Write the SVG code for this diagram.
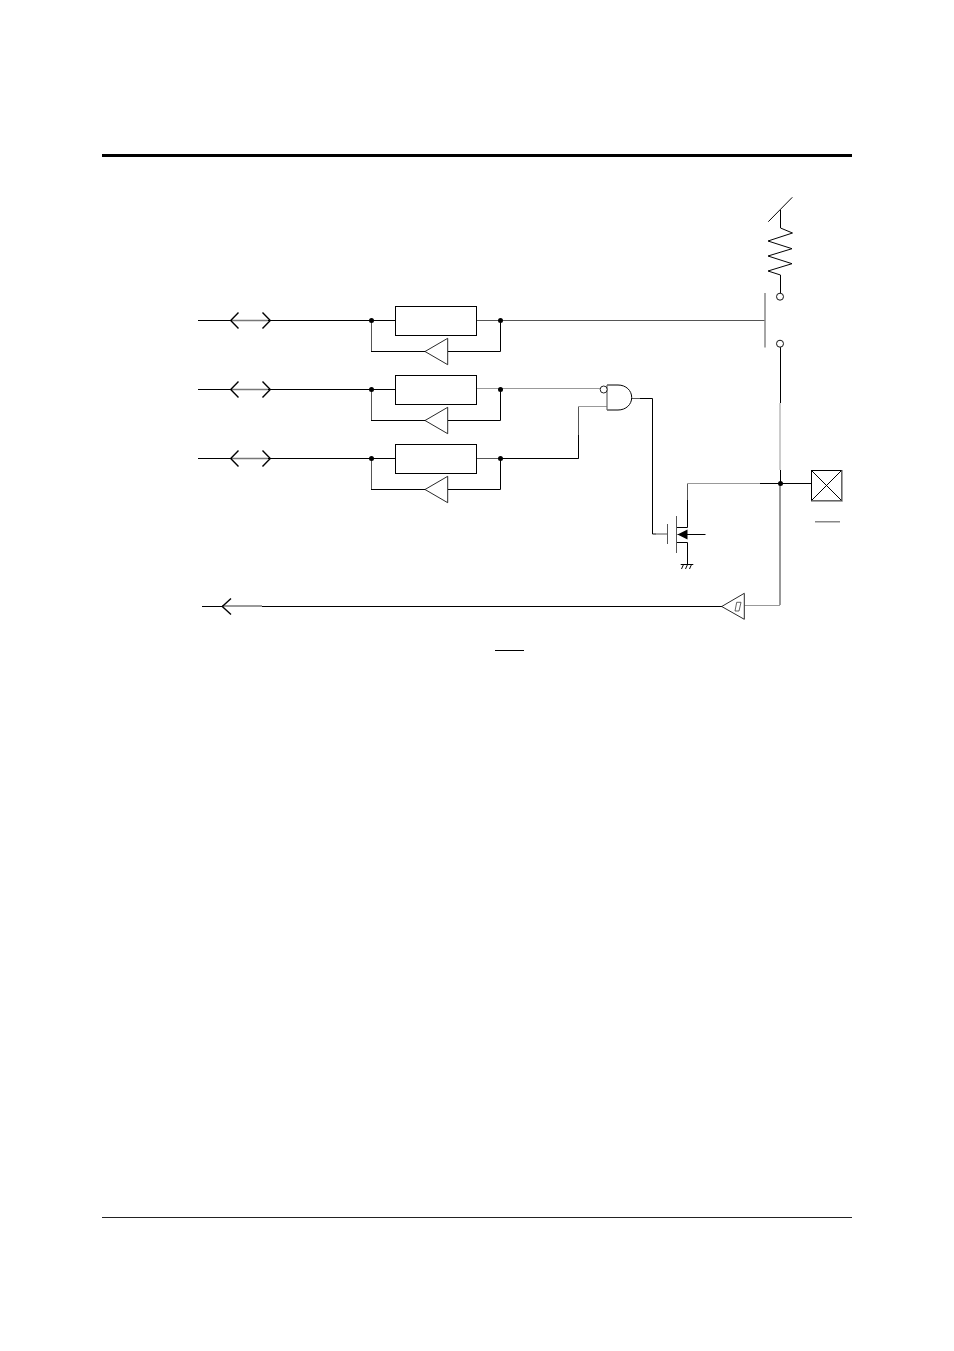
<svg xmlns="http://www.w3.org/2000/svg" width="954" height="1351" viewBox="0 0 954 1351">
<style>
.k{fill:none;stroke:#000;stroke-width:1}
.d{fill:none;stroke:#555;stroke-width:1}
.g{fill:none;stroke:#999;stroke-width:1}
.m{fill:none;stroke:#999;stroke-width:2}
.s{fill:none;stroke:#777;stroke-width:1.600}
.box{fill:#fff;stroke:#000;stroke-width:1}
.tri{fill:#fff;stroke:#111;stroke-width:.9}
.dot{fill:#000}
.circ{fill:#fff;stroke:#111;stroke-width:1}
.bi{fill:none;stroke:#000;stroke-width:1.400}
</style>
<rect width="954" height="1351" fill="#fff"/>
<g id="page-rules">
<rect x="102" y="154" width="750" height="3" fill="#000"/>
<rect x="102" y="1217" width="750" height="1" fill="#222"/>
</g>
<g id="connectors">
<path class="k" d="M198 320.500H232M268 320.500H395"/><path class="s" d="M232 320.500H268"/>
<path class="k" d="M198 389.500H232M268 389.500H395"/><path class="s" d="M232 389.500H268"/>
<path class="k" d="M198 458.500H232M268 458.500H395"/><path class="s" d="M232 458.500H268"/>
<path class="bi" d="M238.500 312.500L230.700 320.500L238.500 328.500M262.500 312.500L270.300 320.500L262.500 328.500"/>
<path class="bi" d="M238.500 381.500L230.700 389.500L238.500 397.500M262.500 381.500L270.300 389.500L262.500 397.500"/>
<path class="bi" d="M238.500 450.500L230.700 458.500L238.500 466.500M262.500 450.500L270.300 458.500L262.500 466.500"/>
<path class="d" d="M371.500 320.500V351.500M371.500 389.500V420.500M371.500 458.500V489.500"/>
<path class="k" d="M371 351.500H425M371 420.500H425M371 489.500H425"/>
<path class="k" d="M448 351.500H500.500V320.500M448 420.500H500.500V389.500M448 489.500H500.500V458.500"/>
<path class="d" d="M477 320.500H765"/>
<path class="g" d="M477 388.500H600"/>
<path class="d" d="M477 458.500H578.500"/>
<path class="k" d="M500 458.500H578.500V435"/>
<path class="d" d="M578.500 435V406.500"/><path class="g" d="M578.500 406.500H607"/>
<path class="d" d="M631 398.500H640"/>
<path class="k" d="M640 398.500H652.500V534H656"/>
<path class="d" d="M656 534H667"/>
<path class="k" d="M677 527.500H687.500V500"/>
<path class="d" d="M687.500 500V483.500"/>
<path class="g" d="M687.500 483.500H760"/>
<path class="k" d="M760 483.500H811"/>
<path class="k" d="M677 542.500H687.500V564"/>
<path class="k" d="M677.500 534.500H705.500" stroke-width=".8"/>
<path class="k" d="M780.500 347V403"/>
<path class="g" d="M780 403V470" stroke-width="1.500"/>
<path class="k" d="M780.500 470V484"/>
<path class="m" d="M780 484V605"/>
<path class="g" d="M744.500 605.500H780"/>
<path class="k" d="M202 606.500H222M262 606.500H722"/>
<path class="m" d="M222 606H262" stroke="#888"/>
<path class="bi" d="M231 598.500L222.300 606.500L231 614.500"/>
<path class="k" d="M768.300 221.700L792.300 197.300"/>
<path class="k" d="M780.500 210V228L792.500 233L768 241L792 248.700L768 256L792 263.700L768 271L780.500 275V293"/>
</g>
<g id="buffer-1"><rect class="box" x="395.500" y="306.500" width="81" height="29"/><path class="tri" d="M425 351.500L447.700 338.300V364.700Z"/></g>
<g id="buffer-2"><rect class="box" x="395.500" y="375.500" width="81" height="29"/><path class="tri" d="M425 420.500L447.700 407.300V433.700Z"/></g>
<g id="buffer-3"><rect class="box" x="395.500" y="444.500" width="81" height="29"/><path class="tri" d="M425 489.500L447.700 476.300V502.700Z"/></g>
<g id="junctions">
<circle class="dot" cx="371.500" cy="320.500" r="2.500"/><circle class="dot" cx="500.500" cy="320.500" r="2.500"/>
<circle class="dot" cx="371.500" cy="389.500" r="2.500"/><circle class="dot" cx="500.500" cy="389.500" r="2.500"/>
<circle class="dot" cx="371.500" cy="458.500" r="2.500"/><circle class="dot" cx="500.500" cy="458.500" r="2.500"/>
<circle class="dot" cx="780.500" cy="483.500" r="2.500"/>
</g>
<g id="nand-gate">
<path d="M607 385H618C626 385 631.700 390.500 631.700 397.500C631.700 404.500 626 410 618 410H607" fill="#fff" stroke="#000"/>
<path d="M607 385V410" fill="none" stroke="#666" stroke-width="1.200"/>
<circle cx="603.700" cy="389.500" r="3.500" fill="#fff" stroke="#222"/>
</g>
<g id="mosfet">
<path d="M667.500 524V544" class="d"/>
<path d="M676.500 516V553" class="d"/>
<path d="M677.500 534.500L687.500 529.500V539.500Z" fill="#000"/>
<path class="k" d="M680.700 564.500H693.300M683.500 564.500L681.500 569M687.500 564.500L685.500 569M691.500 564.500L689.500 569" stroke-width=".8"/>
</g>
<g id="pullup-switch">
<circle class="circ" cx="780" cy="296.700" r="3.500"/>
<circle class="circ" cx="780" cy="343.700" r="3.500"/>
<path d="M765 293V347.500" fill="none" stroke="#888" stroke-width="1.500"/>
</g>
<g id="pad">
<rect x="811.500" y="470.500" width="30" height="30" fill="#fff" stroke="#000"/>
<path d="M842 470V501H811" fill="none" stroke="#888" stroke-width="1.500"/>
<path class="k" d="M811.500 470.500L841.500 500.500M841.500 470.500L811.500 500.500" stroke-width=".9"/>
</g>
<g id="schmitt-buffer">
<path class="tri" d="M721.700 606.500L744.300 593.300V619.300Z"/>
<path d="M735 611L736.700 602.300H741L739 611Z" fill="none" stroke="#222" stroke-width=".7"/>
</g>
<g id="overbars">
<rect x="815" y="521" width="25" height="1.500" fill="#888"/>
<rect x="495" y="650" width="29" height="1" fill="#000"/>
</g>
</svg>
